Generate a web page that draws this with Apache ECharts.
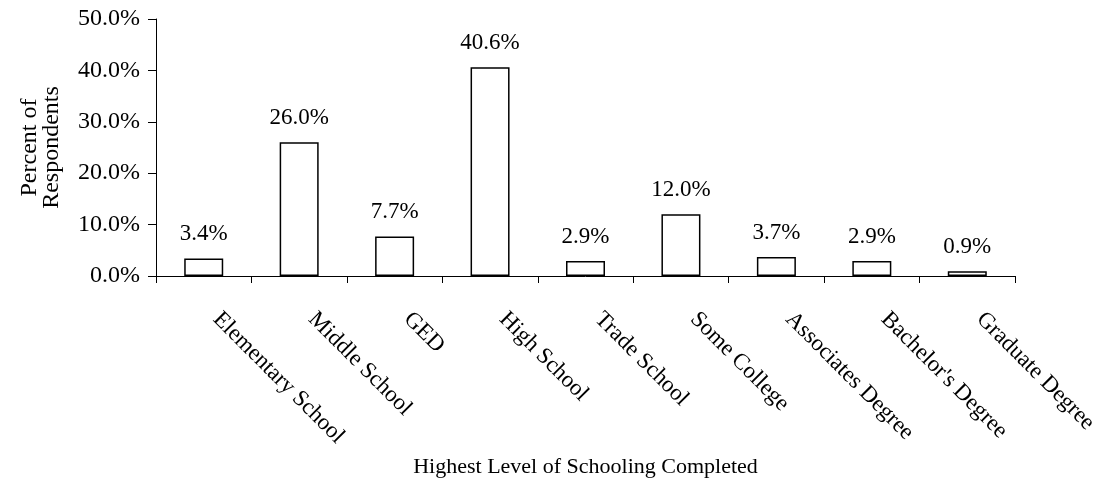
<!DOCTYPE html>
<html>
<head>
<meta charset="utf-8">
<script src="https://cdn.jsdelivr.net/npm/echarts@6/dist/echarts.min.js"></script>
<style>
  html, body { margin: 0; padding: 0; background: #fff; }
  #chart { width: 1103px; height: 485px; }
</style>
</head>
<body>
<div id="chart"></div>
<script>
// Highest level of schooling completed by respondents (percent)
const categories = [
  'Elementary School', 'Middle School', 'GED', 'High School', 'Trade School',
  'Some College', 'Associates Degree', "Bachelor's Degree", 'Graduate Degree'
];
const percentValues = [3.4, 26.0, 7.7, 40.6, 2.9, 12.0, 3.7, 2.9, 0.9];
const yTicks = { min: 0, max: 50, interval: 10 };

const FONT = "'Liberation Serif', 'Times New Roman', serif";
const pct = v => Number(v).toFixed(1) + '%';

const chart = echarts.init(document.getElementById('chart'), null, { renderer: 'canvas' });
chart.setOption({
  animation: false,
  backgroundColor: '#ffffff',
  textStyle: { fontFamily: FONT, color: '#000' },
  grid: { left: 156, right: 88, top: 19, bottom: 209, containLabel: false },
  xAxis: {
    type: 'category',
    data: categories,
    name: 'Highest Level of Schooling Completed',
    nameLocation: 'middle',
    nameGap: 180,
    nameTextStyle: { fontFamily: FONT, fontSize: 22, color: '#000' },
    axisLine: { lineStyle: { color: '#000', width: 1 } },
    axisTick: { show: true, length: 7, lineStyle: { color: '#000', width: 1 } },
    axisLabel: {
      rotate: -45,
      margin: 27,
      padding: [0, 0, 0, 18],
      interval: 0,
      fontFamily: FONT,
      fontSize: 23,
      color: '#000'
    },
    splitLine: { show: false }
  },
  yAxis: {
    type: 'value',
    min: yTicks.min,
    max: yTicks.max,
    interval: yTicks.interval,
    name: 'Percent of\nRespondents',
    nameLocation: 'middle',
    nameGap: 93,
    nameTextStyle: { fontFamily: FONT, fontSize: 24, color: '#000', lineHeight: 22 },
    axisLine: { show: true, lineStyle: { color: '#000', width: 1 } },
    axisTick: { show: true, length: 8, lineStyle: { color: '#000', width: 1 } },
    axisLabel: {
      margin: 16,
      fontFamily: FONT,
      fontSize: 24,
      color: '#000',
      formatter: pct
    },
    splitLine: { show: false }
  },
  series: [{
    type: 'bar',
    data: percentValues,
    barWidth: 39,
    itemStyle: { color: '#ffffff', borderColor: '#000', borderWidth: 1.5 },
    label: {
      show: true,
      position: 'top',
      distance: 13,
      fontFamily: FONT,
      fontSize: 23,
      color: '#000',
      formatter: p => pct(p.value)
    }
  }]
});
</script>
</body>
</html>
